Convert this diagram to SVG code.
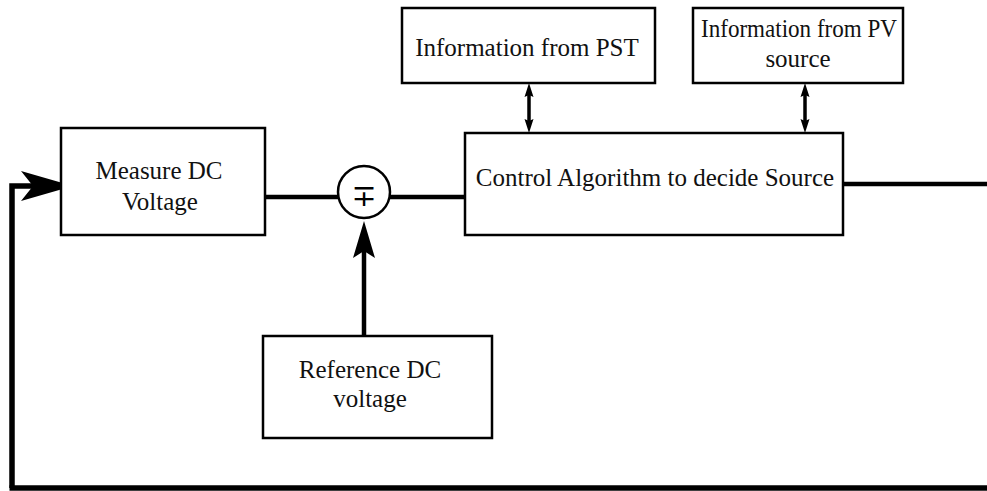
<svg xmlns="http://www.w3.org/2000/svg" width="987" height="491" viewBox="0 0 987 491">
  <style>
    .box { fill: #ffffff; stroke: #000000; stroke-width: 2.5; }
    .lbl { font-family: "Liberation Serif", "Times New Roman", serif; font-size: 25px; fill: #111111; text-anchor: middle; }
    .wire { fill: none; stroke: #000000; stroke-width: 4.5; }
    .thick { fill: none; stroke: #000000; stroke-width: 5.5; }
    .thin { fill: none; stroke: #000000; stroke-width: 3.5; }
  </style>
  <defs>
    <marker id="small" markerUnits="userSpaceOnUse" markerWidth="14" markerHeight="10" refX="7" refY="5" orient="auto-start-reverse" viewBox="0 0 14 10">
      <path d="M0,0.5 L14,5 L0,9.5 L2,5 z" fill="#000"/>
    </marker>
    <marker id="bigHead" markerUnits="userSpaceOnUse" markerWidth="37" markerHeight="24" refX="23" refY="12" orient="auto" viewBox="0 0 37 24">
      <path d="M0,1 L37,12 L0,23 L7,12 z" fill="#000"/>
    </marker>
    <marker id="fbHead" markerUnits="userSpaceOnUse" markerWidth="52" markerHeight="32" refX="39" refY="16" orient="auto" viewBox="0 0 52 32">
      <path d="M0,1 L52,16 L0,31 L12,16 z" fill="#000"/>
    </marker>
  </defs>

  <g id="connectors">
    <path class="thick" d="M12,488 V186 H60" marker-end="url(#fbHead)"/>
    <path class="thick" d="M9.5,488 H987"/>
    <path class="wire" d="M265,197 H338"/>
    <path class="wire" d="M390,197 H465"/>
    <path class="wire" d="M364,336 V235" marker-end="url(#bigHead)"/>
    <path class="wire" d="M843,184 H987"/>
    <path class="thin" d="M529,90 V126" marker-start="url(#small)" marker-end="url(#small)"/>
    <path class="thin" d="M805,90 V126" marker-start="url(#small)" marker-end="url(#small)"/>
  </g>

  <g id="measure">
    <rect class="box" x="61" y="128" width="204" height="107"/>
    <text class="lbl" x="159" y="179">Measure DC</text>
    <text class="lbl" x="160" y="210">Voltage</text>
  </g>

  <g id="sum">
    <circle cx="364" cy="192" r="26" fill="#fff" stroke="#000" stroke-width="2.5"/>
    <text x="364" y="206" font-family="Liberation Serif, DejaVu Serif, serif" font-size="30" text-anchor="middle" fill="#000">∓</text>
  </g>

  <g id="reference">
    <rect class="box" x="263" y="336" width="229" height="102"/>
    <text class="lbl" x="370" y="378">Reference DC</text>
    <text class="lbl" x="370" y="407">voltage</text>
  </g>

  <g id="control">
    <rect class="box" x="465" y="133" width="378" height="102"/>
    <text class="lbl" x="655" y="186">Control Algorithm to decide Source</text>
  </g>

  <g id="pst">
    <rect class="box" x="402" y="8" width="253" height="75"/>
    <text class="lbl" x="527" y="56">Information from PST</text>
  </g>

  <g id="pv">
    <rect class="box" x="693" y="8" width="210" height="75"/>
    <text class="lbl" x="799" y="37" textLength="196" lengthAdjust="spacingAndGlyphs">Information from PV</text>
    <text class="lbl" x="798" y="67">source</text>
  </g>
</svg>
